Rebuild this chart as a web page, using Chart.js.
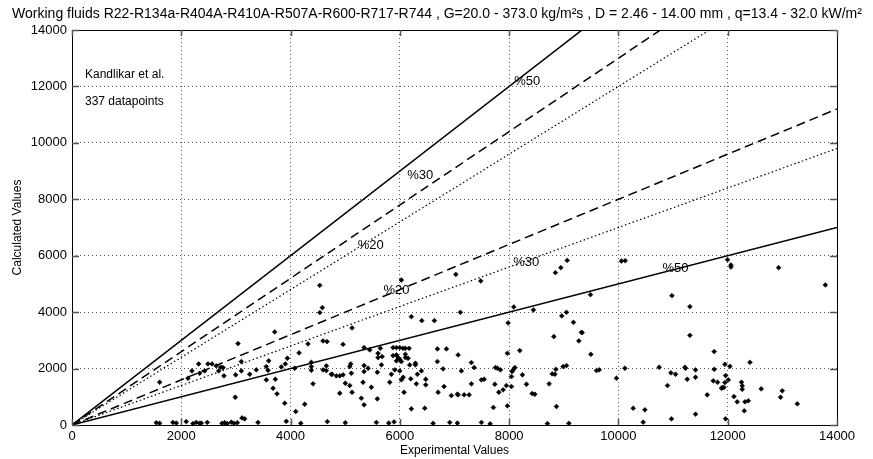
<!DOCTYPE html>
<html>
<head>
<meta charset="utf-8">
<script src="https://cdn.jsdelivr.net/npm/chart.js@4.4.0/dist/chart.umd.min.js"></script>
<style>
  html, body { margin: 0; padding: 0; background: #fff; }
  canvas { display: block; }
</style>
</head>
<body>
<canvas id="errChart" width="873" height="459"></canvas>
<script>
// Experimental vs calculated values
const expValues = [
    4534, 4581, 4534, 3710, 6028, 7024, 6211, 6401, 6632, 7108, 5125, 7481, 8847, 8946, 9062, 9488,
    8086, 8444, 8964, 9049, 9177, 9323, 7981, 10056, 10124, 10979, 11308, 11308, 11997, 12059, 12059, 12931, 13786,
    1604, 2195, 2318, 2122, 1543, 1604, 1847, 1908, 2091, 2214, 2275, 2336,
    3038, 4594, 4667, 4155, 4319, 3941, 3904, 3600, 3556, 3099, 3099, 3252, 3373, 3587, 3831, 4076,
    4380, 4380, 4380, 4594, 4655, 4655, 4746, 4411, 4259, 4094, 3893, 3752, 3679, 3721, 3556, 2988,
    2488, 2562, 2428, 2640, 2721, 2684, 2763, 2781, 2995, 2336,
    2366, 2476, 2745, 2794, 2842, 2915, 2964, 3025, 3111, 3160, 3404, 3922, 4186, 4673,
    4960, 5345, 5449, 5643, 5601, 5601, 5675, 5876, 5937, 5998, 6059, 6101, 6169, 5876, 5937, 5967,
    5998, 6101, 6101, 5937, 6028, 6150, 6284, 6284, 6181, 5101, 5083, 5662, 5345, 5418, 5345, 5112,
    4960, 4900, 4838, 4759, 5588, 5907, 5998, 5845, 6059, 6028, 6200, 6321, 6394, 6474, 6302, 6474,
    5326, 5002, 5083, 5478, 5815, 5125, 4900, 6077, 5295, 5345, 5588, 6211, 6456, 6687, 6852, 6687,
    6791, 7066, 6809, 6700, 6943, 7053, 7126,
    5002, 5570, 5797, 5894, 6608, 6913, 7053,
    7309, 7359, 7309, 7493, 7542, 7749, 7786, 7841, 7968, 8195, 8073, 8104, 8054, 8042, 8243, 7738,
    7950, 8042, 7811, 7890, 8317, 8421, 8470, 7176, 7267, 7066, 7712, 7968, 8732, 8787, 8836, 8855,
    8988, 9049, 8866, 8818, 9276, 9336, 9496,
    7493, 7652, 8701, 9093,
    9598, 9648, 9964, 10118, 10746, 10960, 11045, 10898, 11217, 11228, 11259, 11411, 11411, 11753, 11753, 11735,
    11814, 11887, 11625, 10270, 10484, 10453, 10971, 11411,
    11949, 12041, 12407, 11961, 12010, 11949, 11900, 11930, 12253, 12266, 12266, 12613, 12998, 12967, 13273, 12114,
    12174, 12316, 12376, 12303, 11961
];
const calcValues = [
    4949, 4160, 3983, 3299, 5140, 5338, 3841, 3699, 3699, 3993, 3441, 5105, 5399, 5576, 5834, 4620,
    4184, 4078, 3866, 3993, 3639, 3285, 3618, 5813, 5823, 4584, 4195, 3179, 5859, 5671, 5600, 5576, 4963,
    1516, 1918, 2166, 1657, 80, 60, 90, 70, 120, 50, 90, 60,
    2885, 2981, 2956, 2556, 2874, 2365, 2166, 2273, 2071, 2248, 1918, 1798, 1954, 1940, 2060, 2011,
    2223, 2071, 1940, 1954, 2096, 1929, 1798, 1458, 736, 478, 772, 1104, 1303, 1621, 1600, 984,
    2166, 2166, 1918, 2096, 2046, 1918, 2036, 1742, 1777, 1834,
    70, 90, 60, 80, 50, 100, 60, 80, 250, 220, 90, 130, 60, 120,
    2860, 2744, 2662, 2719, 2542, 2390, 2425, 2744, 2744, 2744, 2719, 2719, 2719, 2460, 2485, 2390,
    2329, 2506, 2390, 2273, 2248, 2365, 2188, 2131, 2131, 2166, 2071, 2131, 2106, 2011, 1894, 1834,
    1777, 1742, 1742, 1798, 1869, 1954, 1918, 1798, 1692, 1600, 1635, 1798, 1918, 1621, 1458, 1423,
    1515, 1480, 1398, 1338, 1515, 1161, 1126, 1161, 949, 715, 927, 573, 595, 2697, 2697, 2248,
    1989, 2485, 1363, 1161, 1044, 1090, 1918,
    80, 90, 70, 110, 60, 90, 70,
    2213, 2036, 1458, 1600, 1621, 2036, 2011, 1954, 2542, 2637, 1954, 2036, 1894, 1717, 1777, 1444,
    1398, 1363, 1161, 1246, 1444, 1115, 1090, 1069, 1069, 1069, 620, 680, 1458, 1812, 1798, 1975,
    2071, 2106, 655, 3133, 2981, 3274, 2506,
    90, 40, 50, 60,
    1929, 1954, 1657, 2011, 2046, 1848, 1798, 1398, 2046, 2011, 1621, 1954, 1692, 2602, 1975, 1565,
    1515, 1303, 1069, 595, 538, 99, 219, 382,
    2152, 2081, 2223, 1752, 1600, 1505, 1327, 1327, 1515, 1388, 1267, 1281, 1211, 984, 750, 1009,
    821, 821, 857, 503, 219
];

// Error band slopes (calc = ratio * exp)
const bandRatios = [1.5, 1.3, 1.2, 0.8, 0.7, 0.5];

// Band labels, in data units
const bandLabels = ['%50', '%30', '%20', '%20', '%30', '%50'];
const bandLabelX = [8331, 6372, 5467, 5937, 8311, 11045];
const bandLabelY = [12160, 8832, 6354, 4761, 5763, 5540];

const axisMax = 14000;
const tickStep = 2000;

const titleText = 'Working fluids R22-R134a-R404A-R410A-R507A-R600-R717-R744 , G=20.0 - 373.0 kg/m\u00B2s , D = 2.46 - 14.00 mm , q=13.4 - 32.0 kW/m\u00B2';
const noteLines = ['Kandlikar et al.', '337 datapoints'];

document.addEventListener('DOMContentLoaded', function() {
    const ctx = document.getElementById('errChart').getContext('2d');
    const FONT = '"Liberation Sans", Arial, sans-serif';

    // line style for each band line
    function bandStyle(ratio) {
        if (ratio === 1.5 || ratio === 0.5) return { dash: [], width: 1.5 };
        if (ratio === 1.3 || ratio === 0.8) return { dash: [9, 5], width: 1.5 };
        return { dash: [1.5, 2.5], width: 1.2 };
    }

    const points = expValues.map((x, i) => ({ x: x, y: calcValues[i] }));

    const lineSets = bandRatios.map(r => {
        const st = bandStyle(r);
        return {
            data: [{ x: 0, y: 0 }, { x: axisMax, y: axisMax * r }],
            showLine: true,
            borderColor: '#000',
            borderWidth: st.width,
            borderDash: st.dash,
            pointRadius: 0,
            fill: false
        };
    });

    // frame, inward ticks, title and text notes
    const decorations = {
        id: 'decorations',
        afterDraw(chart) {
            const c = chart.ctx;
            const a = chart.chartArea;
            const xs = chart.scales.x;
            const ys = chart.scales.y;
            c.save();
            c.strokeStyle = '#000';
            c.lineWidth = 1;
            c.strokeRect(a.left + 0.5, a.top + 0.5, a.right - a.left, a.bottom - a.top);

            // inward tick marks on all four sides
            c.strokeStyle = '#555';
            c.lineWidth = 1.5;
            for (let v = 0; v <= axisMax; v += tickStep) {
                const px = Math.round(xs.getPixelForValue(v)) + 0.5;
                const py = Math.round(ys.getPixelForValue(v)) + 0.5;
                c.beginPath();
                c.moveTo(px, a.bottom); c.lineTo(px, a.bottom - 6);
                c.moveTo(px, a.top); c.lineTo(px, a.top + 6);
                c.moveTo(a.left, py); c.lineTo(a.left + 7, py);
                c.moveTo(a.right, py); c.lineTo(a.right - 7, py);
                c.stroke();
            }

            c.fillStyle = '#000';
            c.font = '14px ' + FONT;
            c.textAlign = 'center';
            c.textBaseline = 'middle';
            c.fillText(titleText, 437, 14);

            // band labels
            c.font = '13px ' + FONT;
            bandLabels.forEach((t, i) => {
                c.fillText(t, xs.getPixelForValue(bandLabelX[i]), ys.getPixelForValue(bandLabelY[i]));
            });

            c.textAlign = 'left';
            c.font = '12px ' + FONT;
            c.fillText(noteLines[0], a.left + 13, 75);
            c.fillText(noteLines[1], a.left + 13, 102);
            c.restore();
        }
    };

    new Chart(ctx, {
        type: 'scatter',
        data: {
            datasets: [{
                data: points,
                pointStyle: 'rectRot',
                pointRadius: 2.4,
                backgroundColor: '#000',
                borderColor: '#000',
                borderWidth: 0.6
            }].concat(lineSets)
        },
        options: {
            responsive: false,
            animation: false,
            devicePixelRatio: 1,
            layout: { padding: { top: 30, right: 36, left: 0, bottom: 0 } },
            plugins: {
                legend: { display: false },
                tooltip: { enabled: false }
            },
            scales: {
                x: {
                    type: 'linear',
                    min: 0,
                    max: axisMax,
                    afterFit: s => { s.height = 34; },
                    ticks: {
                        stepSize: tickStep,
                        color: '#000',
                        padding: 4,
                        maxRotation: 0,
                        font: { family: FONT, size: 13 },
                        callback: v => String(v)
                    },
                    grid: { color: '#555', lineWidth: 1, drawTicks: false },
                    border: { display: false, dash: [1, 3] },
                    title: {
                        display: true,
                        text: 'Experimental Values',
                        color: '#000',
                        padding: { top: 0, bottom: 1 },
                        font: { family: FONT, size: 12 }
                    }
                },
                y: {
                    type: 'linear',
                    min: 0,
                    max: axisMax,
                    afterFit: s => { s.width = 72; },
                    ticks: {
                        stepSize: tickStep,
                        color: '#000',
                        padding: 5,
                        font: { family: FONT, size: 13 },
                        callback: v => String(v)
                    },
                    grid: { color: '#555', lineWidth: 1, drawTicks: false },
                    border: { display: false, dash: [1, 3] },
                    title: {
                        display: true,
                        text: 'Calculated Values',
                        color: '#000',
                        padding: { top: 10, bottom: 0 },
                        font: { family: FONT, size: 12 }
                    }
                }
            }
        },
        plugins: [decorations]
    });
});
</script>
</body>
</html>
